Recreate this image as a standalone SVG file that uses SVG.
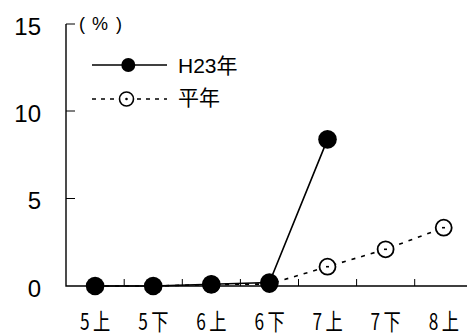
<svg xmlns="http://www.w3.org/2000/svg" width="467" height="336" viewBox="0 0 467 336">
<style>
.ax{stroke:#000;stroke-width:1.4;fill:none}
.tk{stroke:#000;stroke-width:1;fill:none}
.yl{font-family:"Liberation Sans",Arial,sans-serif;font-size:24px;text-anchor:end;fill:#000}
.xl{font-family:"Noto Sans CJK JP","Liberation Sans",sans-serif;font-size:23px;fill:#000}
.lg{font-family:"Liberation Sans","Noto Sans CJK JP",sans-serif;font-size:21px;fill:#000}
.pc{font-family:"Liberation Sans",Arial,sans-serif;font-size:18px;fill:#000}
.solid{stroke:#000;stroke-width:1.6;fill:none}
.dash{stroke:#000;stroke-width:1.6;fill:none;stroke-dasharray:4 6}
.fc{fill:#000}
.oc{fill:#fff;stroke:#000;stroke-width:1.8}
.cd{stroke:#000;stroke-width:1.6}
</style>
<g id="axes">
<path class="ax" d="M66,24 V286 H467"/>
<path class="tk" d="M66,24 H75 M66,111 H75 M66,198.5 H75"/>
<path class="tk" d="M124.2,286 V279 M182.3,286 V279 M240.4,286 V279 M298.5,286 V279 M356.6,286 V279 M414.7,286 V279"/>
<text class="yl" x="41" y="35">15</text>
<text class="yl" x="41" y="122">10</text>
<text class="yl" x="41" y="209">5</text>
<text class="yl" x="41" y="297">0</text>
<text class="pc" x="79" y="30">(</text>
<text class="pc" x="92" y="30">%</text>
<text class="pc" x="116" y="30">)</text>
<text class="xl" transform="translate(95.1,330) scale(0.75,1)"><tspan x="-20">5</tspan><tspan x="-2.7">上</tspan></text>
<text class="xl" transform="translate(153.2,330) scale(0.75,1)"><tspan x="-20">5</tspan><tspan x="-2.7">下</tspan></text>
<text class="xl" transform="translate(211.3,330) scale(0.75,1)"><tspan x="-20">6</tspan><tspan x="-2.7">上</tspan></text>
<text class="xl" transform="translate(269.4,330) scale(0.75,1)"><tspan x="-20">6</tspan><tspan x="-2.7">下</tspan></text>
<text class="xl" transform="translate(327.5,330) scale(0.75,1)"><tspan x="-20">7</tspan><tspan x="-2.7">上</tspan></text>
<text class="xl" transform="translate(385.6,330) scale(0.75,1)"><tspan x="-20">7</tspan><tspan x="-2.7">下</tspan></text>
<text class="xl" transform="translate(443.7,330) scale(0.75,1)"><tspan x="-20">8</tspan><tspan x="-2.7">上</tspan></text>
</g>
<g id="connectors">
<path class="dash" d="M95.1,286 L153.2,286 L211.3,284.5 L269.4,284 L327.5,266.7 L385.6,249.3 L443.7,227.7"/>
<path class="solid" d="M95.1,286 L153.2,286 L211.3,284.3 L269.4,282.5 L327.5,139.4"/>
</g>
<g id="heinen">
<circle class="oc" cx="211.3" cy="284.5" r="8"/>
<circle class="oc" cx="269.4" cy="284" r="8"/>
<circle class="oc" cx="327.5" cy="266.7" r="8"/>
<line class="cd" x1="326" y1="266.7" x2="329" y2="266.7"/>
<circle class="oc" cx="385.6" cy="249.3" r="8"/>
<line class="cd" x1="384" y1="249.3" x2="387" y2="249.3"/>
<circle class="oc" cx="443.7" cy="227.7" r="8"/>
<line class="cd" x1="442" y1="227.7" x2="445" y2="227.7"/>
</g>
<g id="h23">
<circle class="fc" cx="95.1" cy="286" r="9.3"/>
<circle class="fc" cx="153.2" cy="286" r="9.3"/>
<circle class="fc" cx="211.3" cy="284.3" r="9.3"/>
<circle class="fc" cx="269.4" cy="282.5" r="9.3"/>
<circle class="fc" cx="327.5" cy="139.4" r="9.3"/>
</g>
<g id="legend">
<line class="solid" x1="92" y1="65" x2="167" y2="65"/>
<circle class="fc" cx="128.3" cy="65" r="7"/>
<text class="lg" x="178" y="73">H23年</text>
<line class="dash" x1="92" y1="99" x2="167" y2="99" style="stroke-dasharray:4 5"/>
<circle class="oc" cx="126.5" cy="99" r="7" style="stroke-width:1.6"/>
<circle class="fc" cx="126.5" cy="99" r="1.3"/>
<text class="lg" x="178" y="105">平年</text>
</g>
</svg>
